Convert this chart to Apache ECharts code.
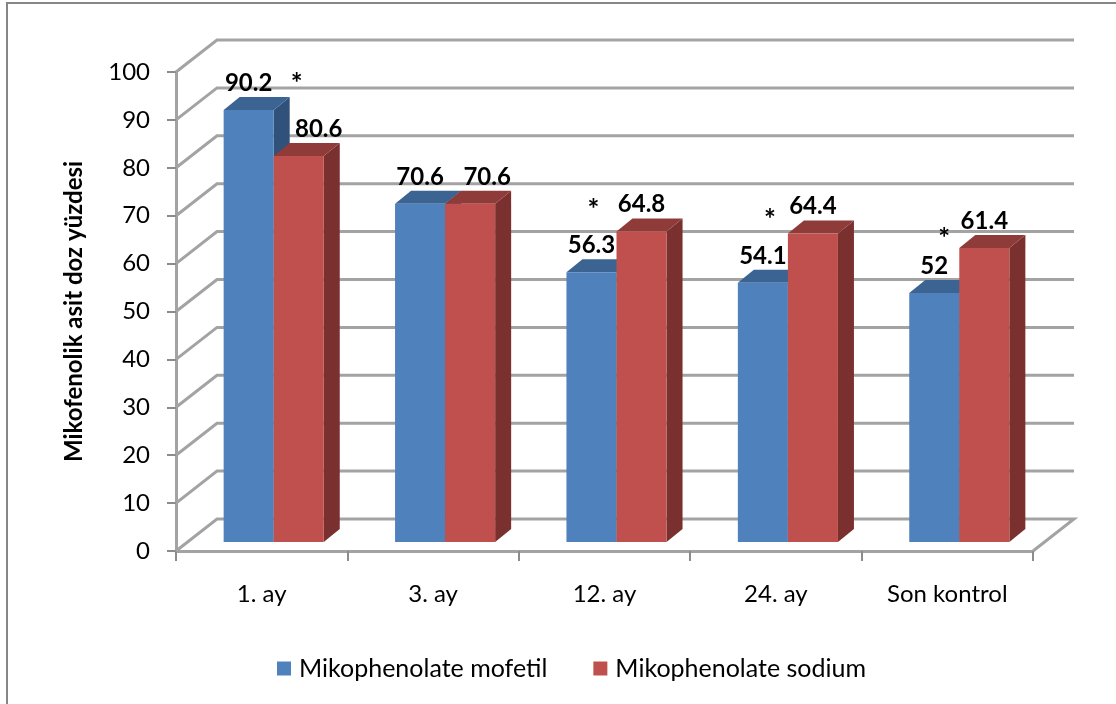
<!Doctype html>
<html>
    <head>
        <meta charset="utf-8">
        <style>
            html, body { margin: 0; padding: 0; background: #fff; }
            #chart { width: 1116px; height: 704px; }
        </style>
    </head>
    <body>
        <div id="chart"></div>
        <script src="https://cdn.jsdelivr.net/npm/echarts@6/dist/echarts.min.js"></script>
        <script>
            // Values
            var categories = ['1. ay', '3. ay', '12. ay', '24. ay', 'Son kontrol'];
            var mofetil = [90.2, 70.6, 56.3, 54.1, 52];
            var sodium = [80.6, 70.6, 64.8, 64.4, 61.4];
            var yTicks = [0, 10, 20, 30, 40, 50, 60, 70, 80, 90, 100];
            // Asterisks: category index and height on the value axis
            var starCategories = [0, 2, 3, 4];
            var starValues = [97.5, 71.3, 69.1, 65.1];

            var fontName = 'Lato, "Noto Sans", sans-serif';
            var gridColor = '#a3a3a3';

            // 3D look: the back wall and the bars are shifted by these pixels
            var wallDx = 41, wallDy = -32;
            var barShiftX = 12, barShiftY = -9;
            var barDepthX = 16, barDepthY = -13;
            var barShare = 0.292;
            var labelGap = 27;
            var sodiumLabelShift = [20, 17, 0, 0, 0];
            var starShift = [35, -11, -6, -3];

            function poly(points, fill) {
                return {
                    type: 'polygon',
                    shape: { points: points },
                    style: { fill: fill }
                };
            }

            // one half of a bar pair, side is -1 for the left bar, 0 for the right bar
            function barRenderer(side, front, top, dark, labelShift) {
                return function (params, api) {
                    var idx = api.value(0);
                    var val = api.value(1);
                    var w = api.size([1, 0])[0] * barShare;
                    var base = api.coord([idx, 0]);
                    var head = api.coord([idx, val]);
                    var x0 = base[0] + barShiftX + side * w;
                    var x1 = x0 + w;
                    var y0 = base[1] + barShiftY;
                    var y1 = head[1] + barShiftY;
                    var dx = barDepthX, dy = barDepthY;
                    return {
                        type: 'group',
                        children: [
                            poly([[x1, y1], [x1 + dx, y1 + dy], [x1 + dx, y0 + dy], [x1, y0]], dark),
                            poly([[x0, y1], [x0 + dx, y1 + dy], [x1 + dx, y1 + dy], [x1, y1]], top),
                            poly([[x0, y1], [x1, y1], [x1, y0], [x0, y0]], front),
                            {
                                type: 'text',
                                style: {
                                    x: (x0 + x1) / 2 + (labelShift ? labelShift[params.dataIndex] : 0),
                                    y: y1 - labelGap,
                                    text: String(val),
                                    textAlign: 'center',
                                    textVerticalAlign: 'middle',
                                    fill: '#000',
                                    font: 'bold 24px ' + fontName
                                }
                            }
                        ]
                    };
                };
            }

            function renderGrid(params, api) {
                var val = api.value(1);
                var cs = params.coordSys;
                var y = api.coord([0, val])[1];
                var left = cs.x, right = cs.x + cs.width;
                var pts = [[left, y], [left + wallDx, y + wallDy], [right + wallDx, y + wallDy]];
                if (val === 0) {
                    pts.push([right, y]);
                }
                return {
                    type: 'polyline',
                    shape: { points: pts },
                    style: { fill: 'none', stroke: gridColor, lineWidth: 3 }
                };
            }

            function renderStar(params, api) {
                var p = api.coord([api.value(0), api.value(1)]);
                return {
                    type: 'text',
                    style: {
                        x: p[0] + starShift[params.dataIndex],
                        y: p[1],
                        text: '*',
                        textAlign: 'center',
                        textVerticalAlign: 'middle',
                        fill: '#000',
                        font: 'bold 28px ' + fontName
                    }
                };
            }

            var chart = echarts.init(document.getElementById('chart'));
            chart.setOption({
                animation: false,
                backgroundColor: '#fff',
                textStyle: { fontFamily: fontName },
                grid: { left: 176, right: 83, top: 72, bottom: 153 },
                graphic: [{
                    type: 'polyline',
                    shape: { points: [[7, 704], [7, 3], [1116, 3]] },
                    style: { fill: 'none', stroke: '#868686', lineWidth: 2 }
                }],
                legend: {
                    data: [
                        { name: 'Mikophenolate mofetil' },
                        { name: 'Mikophenolate sodium' }
                    ],
                    left: 272,
                    top: 651,
                    itemWidth: 14,
                    itemHeight: 14,
                    itemGap: 46,
                    icon: 'rect',
                    textStyle: { fontSize: 25, color: '#000', fontFamily: fontName, padding: [0, 0, 0, 3] }
                },
                xAxis: {
                    type: 'category',
                    data: categories,
                    axisLine: { lineStyle: { color: gridColor, width: 3 } },
                    axisTick: { show: true, length: 10, lineStyle: { color: '#8c8c8c', width: 2 } },
                    axisLabel: { color: '#000', fontSize: 24, margin: 31, fontFamily: fontName },
                    splitLine: { show: false }
                },
                yAxis: {
                    type: 'value',
                    min: 0,
                    max: 100,
                    interval: 10,
                    name: 'Mikofenolik asit doz yüzdesi',
                    nameLocation: 'middle',
                    nameGap: 90,
                    nameTextStyle: { color: '#000', fontSize: 24, fontWeight: 'bold', fontFamily: fontName },
                    axisLine: { show: true, lineStyle: { color: gridColor, width: 3 } },
                    axisTick: { show: true, length: 9, lineStyle: { color: '#8c8c8c', width: 2 } },
                    axisLabel: { color: '#000', fontSize: 24, margin: 26, fontFamily: fontName },
                    splitLine: { show: false }
                },
                series: [
                    {
                        type: 'custom',
                        silent: true,
                        clip: false,
                        z: 1,
                        renderItem: renderGrid,
                        data: yTicks.map(function (v) { return [0, v]; })
                    },
                    {
                        type: 'custom',
                        name: 'Mikophenolate mofetil',
                        clip: false,
                        z: 3,
                        itemStyle: { color: '#4f81bd' },
                        renderItem: barRenderer(-1, '#4f81bd', '#3b6492', '#30527a', null),
                        data: mofetil.map(function (v, i) { return [i, v]; })
                    },
                    {
                        type: 'custom',
                        name: 'Mikophenolate sodium',
                        clip: false,
                        z: 4,
                        itemStyle: { color: '#c0504d' },
                        renderItem: barRenderer(0, '#c0504d', '#8f3b39', '#7a302e', sodiumLabelShift),
                        data: sodium.map(function (v, i) { return [i, v]; })
                    },
                    {
                        type: 'custom',
                        silent: true,
                        clip: false,
                        z: 5,
                        renderItem: renderStar,
                        data: starCategories.map(function (c, i) { return [c, starValues[i]]; })
                    }
                ]
            });
        </script>
    </body>
</html>
